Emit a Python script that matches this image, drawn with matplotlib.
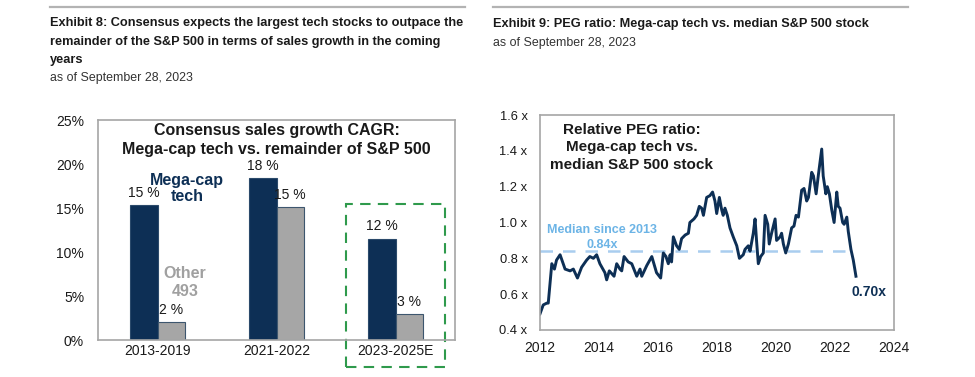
import matplotlib.pyplot as plt
from matplotlib.patches import Rectangle
from matplotlib.lines import Line2D

# data - left chart (sales growth CAGR, %)
periods = ['2013-2019', '2021-2022', '2023-2025E']
megacap = [15.3, 18.4, 11.5]
other493 = [2.0, 15.1, 2.9]
megacap_lbl = ['15 %', '18 %', '12 %']
other_lbl = ['2 %', '15 %', '3 %']

# data - right chart (relative PEG ratio)
peg_year = [2012.00, 2012.11, 2012.23, 2012.28, 2012.40, 2012.49, 2012.56, 2012.68, 2012.85,
            2013.02, 2013.13, 2013.27, 2013.41, 2013.58, 2013.69, 2013.81, 2013.92,
            2014.03, 2014.20, 2014.26, 2014.35, 2014.51, 2014.60, 2014.71, 2014.77, 2014.85, 2014.99,
            2015.11, 2015.28, 2015.39, 2015.45, 2015.62, 2015.79, 2015.95,
            2016.09, 2016.18, 2016.27, 2016.35, 2016.41, 2016.46, 2016.52, 2016.63, 2016.72, 2016.80, 2016.92,
            2017.03, 2017.08, 2017.22, 2017.31, 2017.40, 2017.48, 2017.54, 2017.65, 2017.76, 2017.85, 2017.93, 2017.99,
            2018.08, 2018.16, 2018.21, 2018.27, 2018.35, 2018.44, 2018.55, 2018.67, 2018.76, 2018.89, 2018.95,
            2019.06, 2019.12, 2019.23, 2019.29, 2019.34, 2019.40, 2019.48, 2019.57, 2019.63, 2019.72, 2019.77, 2019.85, 2019.97,
            2020.02, 2020.14, 2020.19, 2020.25, 2020.33, 2020.42, 2020.53, 2020.61, 2020.68, 2020.76, 2020.87, 2020.95,
            2021.04, 2021.10, 2021.21, 2021.27, 2021.36, 2021.44, 2021.55, 2021.60, 2021.69, 2021.74, 2021.81, 2021.89, 2021.97,
            2022.06, 2022.11, 2022.17, 2022.26, 2022.31, 2022.40, 2022.45, 2022.54, 2022.62, 2022.71]
peg_value = [0.49, 0.54, 0.55, 0.55, 0.77, 0.74, 0.79, 0.82, 0.74,
             0.73, 0.74, 0.69, 0.75, 0.79, 0.81, 0.80, 0.82,
             0.77, 0.72, 0.68, 0.73, 0.70, 0.77, 0.74, 0.73, 0.81, 0.78,
             0.77, 0.70, 0.74, 0.70, 0.76, 0.81, 0.72,
             0.69, 0.83, 0.81, 0.77, 0.82, 0.78, 0.92, 0.87, 0.85, 0.91, 0.93,
             0.94, 1.00, 1.02, 1.04, 1.09, 1.08, 1.04, 1.14, 1.15, 1.17, 1.12, 1.05,
             1.14, 1.07, 1.04, 1.08, 1.04, 0.97, 0.92, 0.87, 0.80, 0.82, 0.85,
             0.87, 0.84, 0.94, 1.02, 0.90, 0.77, 0.81, 0.83, 1.04, 0.99, 0.88, 0.94, 1.02,
             0.90, 0.92, 0.94, 0.88, 0.83, 0.88, 0.97, 0.98, 1.04, 1.03, 1.18, 1.19,
             1.12, 1.14, 1.28, 1.26, 1.16, 1.27, 1.41, 1.26, 1.16, 1.20, 1.16, 1.07, 1.00,
             1.17, 1.09, 1.08, 1.00, 0.99, 1.03, 0.95, 0.85, 0.79, 0.70]
median_peg = 0.84
median_span = [2012.0, 2022.45]

navy = '#0d2f55'
grey_bar = '#a6a6a6'
txt = '#1a1a1a'
spine_c = '#a6a6a6'

plt.rcParams['font.family'] = ['Liberation Sans', 'DejaVu Sans']

W, H = 975, 377
fig = plt.figure(figsize=(9.75, 3.77), dpi=100)

def fx(x):
    return x / W

def fy(y):
    return 1 - y / H

# header rules and titles
fig.add_artist(Line2D([fx(50), fx(465)], [fy(7), fy(7)], color='#b3b3b3', lw=1.6))
fig.add_artist(Line2D([fx(493), fx(908)], [fy(7), fy(7)], color='#b3b3b3', lw=1.6))
title_lines = ['Exhibit 8: Consensus expects the largest tech stocks to outpace the',
               'remainder of the S&P 500 in terms of sales growth in the coming',
               'years']
for line, yy in zip(title_lines, [23, 42, 60]):
    fig.text(fx(50), fy(yy), line, fontweight='bold', fontsize=9.2, color=txt,
             va='center', ha='left')
fig.text(fx(50), fy(78), 'as of September 28, 2023', fontsize=8.9,
         color='#333333', va='center', ha='left')
fig.text(fx(493), fy(24), 'Exhibit 9: PEG ratio: Mega-cap tech vs. median S&P 500 stock',
         fontweight='bold', fontsize=9.2, color=txt, va='center', ha='left')
fig.text(fx(493), fy(43), 'as of September 28, 2023', fontsize=8.9,
         color='#333333', va='center', ha='left')

# left chart: bars
ax1 = fig.add_axes([fx(98), fy(340), fx(455) - fx(98), fy(120) - fy(340)])
x = range(len(periods))
bw = 0.23
b1 = ax1.bar([i - bw / 2 for i in x], megacap, bw, color=navy, edgecolor='#2b4a6b', linewidth=0.8)
b2 = ax1.bar([i + bw / 2 for i in x], other493, bw, color=grey_bar, edgecolor='#3d566e', linewidth=0.8)
for rect, lbl in zip(b1, megacap_lbl):
    ax1.annotate(lbl, (rect.get_x() + rect.get_width() / 2, rect.get_height()),
                 xytext=(0, 4), textcoords='offset points', ha='center', va='bottom',
                 fontsize=10, color=txt)
for rect, lbl in zip(b2, other_lbl):
    ax1.annotate(lbl, (rect.get_x() + rect.get_width() / 2, rect.get_height()),
                 xytext=(0, 4), textcoords='offset points', ha='center', va='bottom',
                 fontsize=10, color=txt)
ax1.set_xlim(-0.5, 2.5)
ax1.set_ylim(0, 25)
ax1.set_yticks([0, 5, 10, 15, 20, 25])
ax1.set_yticklabels(['0%', '5%', '10%', '15%', '20%', '25%'])
ax1.set_xticks(list(x))
ax1.set_xticklabels(periods)
ax1.tick_params(length=0, labelsize=10, labelcolor=txt)
ax1.tick_params(axis='y', pad=10)
ax1.tick_params(axis='x', pad=3)
for s in ax1.spines.values():
    s.set_color(spine_c)
    s.set_linewidth(1.2)
ax1.text(0.5, 0.985, 'Consensus sales growth CAGR:\nMega-cap tech vs. remainder of S&P 500',
         transform=ax1.transAxes, ha='center', va='top', fontsize=11.5, fontweight='bold',
         color=txt, linespacing=1.3)
ax1.text(0.25, 18.1, 'Mega-cap', ha='center', va='center', fontsize=11.5, fontweight='bold',
         color=navy)
ax1.text(0.25, 16.3, 'tech', ha='center', va='center', fontsize=11.5, fontweight='bold',
         color=navy)
ax1.text(0.23, 6.5, 'Other\n493', ha='center', va='center', fontsize=11.5, fontweight='bold',
         color='#a0a0a0', linespacing=1.25)
ax1.add_patch(Rectangle((1.58, -3.1), 0.84, 18.55, fill=False, edgecolor='#2f9a4c',
                        linestyle=(0, (5, 3.5)), linewidth=1.5, clip_on=False))

# right chart: PEG line
ax2 = fig.add_axes([fx(540), fy(330), fx(894) - fx(540), fy(115) - fy(330)])
ax2.plot(median_span, [median_peg, median_peg], color='#a9cdef', lw=1.8, linestyle=(0, (5, 4)))
ax2.plot(peg_year, peg_value, color=navy, lw=2.1)
ax2.set_xlim(2012, 2024)
ax2.set_ylim(0.4, 1.6)
ax2.set_xticks(range(2012, 2025, 2))
ax2.set_yticks([0.4, 0.6, 0.8, 1.0, 1.2, 1.4, 1.6])
ax2.set_yticklabels(['%.1f x' % v for v in [0.4, 0.6, 0.8, 1.0, 1.2, 1.4, 1.6]])
ax2.tick_params(length=0, labelcolor=txt)
ax2.tick_params(axis='y', labelsize=9.3, pad=9)
ax2.tick_params(axis='x', labelsize=10, pad=8)
for s in ax2.spines.values():
    s.set_color(spine_c)
    s.set_linewidth(1.2)
ax2.text(2015.1, 1.42, 'Relative PEG ratio:\nMega-cap tech vs.\nmedian S&P 500 stock',
         ha='center', va='center', fontsize=11, fontweight='bold', color=txt, linespacing=1.3)
ax2.text(2014.1, 0.957, 'Median since 2013', ha='center', va='center', fontsize=9,
         fontweight='bold', color='#6cb4e6')
ax2.text(2014.1, 0.872, '%.2fx' % median_peg, ha='center', va='center', fontsize=9,
         fontweight='bold', color='#6cb4e6')
ax2.text(peg_year[-1] + 0.45, 0.61, '%.2fx' % peg_value[-1], ha='center', va='center', fontsize=10,
         fontweight='bold', color=navy)

fig.savefig('out.png', dpi=100)
